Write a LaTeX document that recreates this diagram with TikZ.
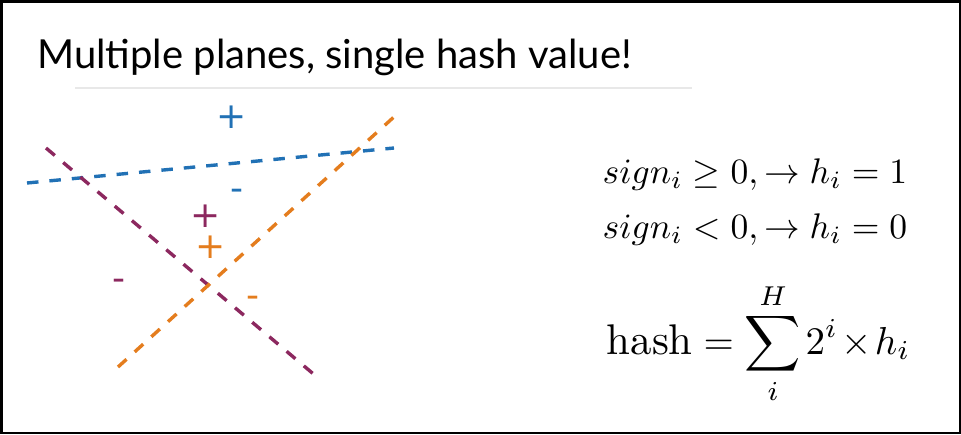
\documentclass[tikz,border=0pt]{standalone}
\usepackage{fontspec}
\newfontfamily\titlefont{Lato}
\newfontfamily\signfont{DejaVu Sans}

\definecolor{planeblue}{RGB}{33,113,181}
\definecolor{planepurple}{RGB}{140,40,95}
\definecolor{planeorange}{RGB}{228,125,30}
\definecolor{rulegray}{RGB}{232,232,232}

\begin{document}
\begin{tikzpicture}[x=1pt, y=-1pt,
  plane/.style={line width=3.4pt, dash pattern=on 11.5pt off 11pt},
  signmark/.style={inner sep=0pt, anchor=base, font=\signfont\fontsize{36}{43}\selectfont},
  formula/.style={inner sep=0pt, font=\fontsize{10}{12}\selectfont, transform shape}]
\useasboundingbox (0,0) rectangle (961,434);

% frame
\draw[line width=2.5pt] (1.25,1.25) rectangle (959.75,432.75);

% title and rule beneath it
\node[inner sep=0pt, anchor=base west, font=\titlefont\fontsize{40}{48}\selectfont]
  (title) at (37,68) {Multiple planes, single hash value!};
\coordinate (ruleL) at (75,88);
\coordinate (ruleR) at (692,88);
\draw[rulegray, line width=2pt] (ruleL) -- (ruleR);

% the three hyperplanes
\coordinate (blueA) at (27,183);
\coordinate (blueB) at (394,148);
\coordinate (purpA) at (46,148);
\coordinate (purpB) at (317,377);
\coordinate (oranA) at (118,367);
\coordinate (oranB) at (395,116);
\draw[plane, planeblue] (blueA) -- (blueB);
\draw[plane, planepurple] (purpA) -- (purpB);
\draw[plane, planeorange] (oranA) -- (oranB);

% side markers
\node[signmark, text=planeblue] (blueplus) at (232,128) {+};
\node[signmark, text=planeblue] (blueminus) at (237,200) {-};
\node[signmark, text=planepurple] (purpplus) at (206,227) {+};
\node[signmark, text=planeorange] (oranplus) at (211,258) {+};
\node[signmark, text=planepurple] (purpminus) at (119,290) {-};
\node[signmark, text=planeorange] (oranminus) at (253,307) {-};

% formulas (set at 10pt, then enlarged)
\node[formula, scale=3.56, anchor=base east]
  (ruleone) at (908,183) {$sign_i \geq 0, \rightarrow h_i = 1$};
\node[formula, scale=3.56, anchor=base east]
  (ruletwo) at (908,238) {$sign_i < 0, \rightarrow h_i = 0$};
\node[formula, scale=3.9, anchor=base west]
  (hashsum) at (606,354)
  {$\scalebox{1.1}{$\mathrm{hash}$} = \displaystyle\sum_i^H \mkern-1mu 2^i \mkern-2.5mu\times\mkern-2.5mu h_i$};
\end{tikzpicture}
\end{document}
